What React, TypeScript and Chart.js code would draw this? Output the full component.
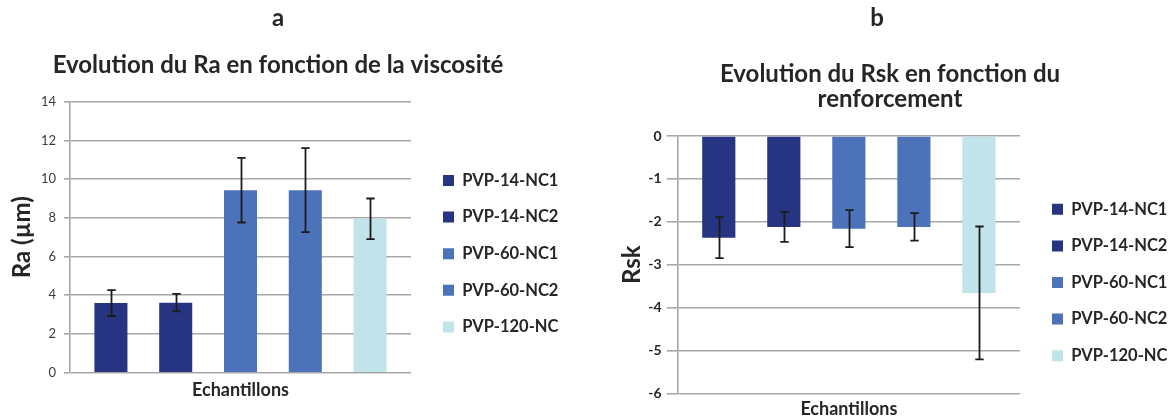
import React, { useEffect, useRef } from 'react';
import { Chart, registerables } from 'chart.js';

Chart.register(...registerables);

// ---------------- data ----------------
const categories = ['Echantillons'];
const seriesNames = ['PVP-14-NC1', 'PVP-14-NC2', 'PVP-60-NC1', 'PVP-60-NC2', 'PVP-120-NC'];
const seriesColors = ['#263482', '#263482', '#4c73b9', '#4c73b9', '#c1e3ea'];

const panelLetters = ['a', 'b'];

const raTitle = 'Evolution du Ra en fonction de la viscosité';
const raAxisTitle = 'Ra (µm)';
const raValues = [3.6, 3.62, 9.43, 9.43, 7.95];
const raErrors = [0.67, 0.45, 1.67, 2.17, 1.05];
const raTicks = [0, 14, 2]; // min, max, step

const rskTitle = ['Evolution du Rsk en fonction du', 'renforcement'];
const rskAxisTitle = 'Rsk';
const rskValues = [-2.37, -2.12, -2.16, -2.12, -3.66];
const rskErrors = [0.48, 0.35, 0.43, 0.32, 1.55];
const rskTicks = [-6, 0, 1];

// ---------------- layout / style ----------------
const FONT = 'Lato, "Open Sans", sans-serif';
const TEXT = '#262626';
const GRID = '#a8a8a8';
const W_PAGE = 1171;
const H = 418;
const X_LABEL_SIZE = 18;
const LEGEND_SIZE = 16.5;
const LEGEND_ROW = 36.6;
const LETTER_SIZE = 24;
const TITLE_SIZE = 24;

interface Panel {
  letter: string;
  title: string | string[];
  axisTitle: string;
  values: number[];
  errors: number[];
  ticks: number[];
  canvasLeft: number;
  canvasWidth: number;
  plotLeft: number;
  plotRight: number;
  plotTop: number;
  plotBottom: number;
  legendBoxX: number;
  legendRowCenter: number;
  axisTitleCenterX: number;
  letterCenterX: number;
  titleCenterX: number;
  letterPadTop: number;
  subPad: { top: number; bottom: number };
  titleLine: number;
  xLabelCenter: number;
  tickLength: number;
  tickPad: number;
  tickBold: boolean;
  tickSize: number;
}

const panels: Panel[] = [
  {
    letter: panelLetters[0],
    title: raTitle,
    axisTitle: raAxisTitle,
    values: raValues,
    errors: raErrors,
    ticks: raTicks,
    canvasLeft: 0,
    canvasWidth: 590,
    plotLeft: 70,
    plotRight: 411,
    plotTop: 101.7,
    plotBottom: 372.7,
    legendBoxX: 443,
    legendRowCenter: 180.5,
    axisTitleCenterX: 22.6,
    letterCenterX: 278,
    titleCenterX: 278,
    letterPadTop: 3.9,
    subPad: { top: 20.4, bottom: 23.6 },
    titleLine: 25,
    xLabelCenter: 390,
    tickLength: 6,
    tickPad: 8,
    tickBold: false,
    tickSize: 13,
  },
  {
    letter: panelLetters[1],
    title: rskTitle,
    axisTitle: rskAxisTitle,
    values: rskValues,
    errors: rskErrors,
    ticks: rskTicks,
    canvasLeft: 590,
    canvasWidth: 620,
    plotLeft: 677.7,
    plotRight: 1020,
    plotTop: 136,
    plotBottom: 393.3,
    legendBoxX: 1052,
    legendRowCenter: 209.3,
    axisTitleCenterX: 631.9,
    letterCenterX: 877,
    titleCenterX: 890,
    letterPadTop: 3.9,
    subPad: { top: 29.4, bottom: 23.9 },
    titleLine: 25,
    xLabelCenter: 409.5,
    tickLength: 11,
    tickPad: 5,
    tickBold: true,
    tickSize: 14,
  },
];

function errorBarPlugin(errors: number[]) {
  return {
    id: 'errorBars',
    afterDatasetsDraw(chart: any) {
      const yScale = chart.scales.y;
      const ctx = chart.ctx;
      ctx.save();
      ctx.strokeStyle = '#1c1c1c';
      ctx.lineWidth = 1.8;
      chart.data.datasets.forEach((ds: any, i: number) => {
        const meta = chart.getDatasetMeta(i);
        const el = meta.data[0];
        if (!el) return;
        const v = ds.data[0] as number;
        const e = errors[i];
        const x = Math.round(el.x) + 0.5;
        const y1 = yScale.getPixelForValue(v + e);
        const y2 = yScale.getPixelForValue(v - e);
        const cap = 4.2;
        ctx.beginPath();
        ctx.moveTo(x, y1);
        ctx.lineTo(x, y2);
        ctx.moveTo(x - cap, y1);
        ctx.lineTo(x + cap, y1);
        ctx.moveTo(x - cap, y2);
        ctx.lineTo(x + cap, y2);
        ctx.stroke();
      });
      ctx.restore();
    },
  };
}

// re-centre the title blocks (letter and chart title) at the reference positions
function titleCenterPlugin(p: Panel) {
  const same = (a: any, b: any) => JSON.stringify(a) === JSON.stringify(b);
  const place = (b: any, cx: number) => {
    b.left = cx - 400;
    b.right = cx + 400;
    b.width = 800;
  };
  const apply = (chart: any) => {
    if (chart.titleBlock) place(chart.titleBlock, p.letterCenterX - p.canvasLeft);
    for (const b of chart.boxes) {
      if (!b || b === chart.titleBlock || !b.options) continue;
      const t = b.options.text;
      if (t === undefined) continue;
      if (same(t, p.title)) place(b, p.titleCenterX - p.canvasLeft);
      else if (same(t, p.letter)) place(b, p.letterCenterX - p.canvasLeft);
    }
  };
  return {
    id: 'titleCenter',
    afterLayout: apply,
    beforeDraw: apply,
  };
}

function buildChart(canvas: HTMLCanvasElement, p: Panel) {
  const fs = LEGEND_SIZE;
  const pad = LEGEND_ROW - fs;
  const box = 11;
  const m = document.createElement('canvas').getContext('2d')!;
  m.font = `bold ${fs}px ${FONT}`;
  const tw = Math.max(...seriesNames.map((n) => m.measureText(n).width));
  const legendW = pad + box + fs / 2 + tw + 10;
  const W = p.canvasWidth;
  const plotLeft = p.plotLeft - p.canvasLeft;
  const plotRight = p.plotRight - p.canvasLeft;
  let legendLeft = p.legendBoxX - p.canvasLeft - pad;
  let padR = W - legendLeft - legendW;
  if (padR < 0) {
    legendLeft += padR;
    padR = 0;
  }
  const spacer = Math.max(0, legendLeft - plotRight);
  const rowTop = p.legendRowCenter - fs / 2;
  const colH = seriesNames.length * (fs + pad);
  const legendTitleH = 2 * rowTop - p.plotTop - pad - p.plotBottom + colH;
  const xLabelPad = p.xLabelCenter - p.plotBottom - (X_LABEL_SIZE * 1.2) / 2;
  const axisTitleSize = 24;
  const axisTitlePad = p.axisTitleCenterX - p.canvasLeft - (axisTitleSize * 1.2) / 2;

  return new Chart(canvas, {
    type: 'bar',
    data: {
      labels: categories,
      datasets: seriesNames.map((name, i) => ({
        label: name,
        data: [p.values[i]],
        backgroundColor: seriesColors[i],
        borderWidth: 0,
        categoryPercentage: 0.95,
        barPercentage: 0.51,
      })),
    },
    options: {
      animation: false,
      responsive: true,
      maintainAspectRatio: false,
      layout: { padding: { left: 0, right: padR, top: 0, bottom: 0 } },
      plugins: {
        title: {
          display: true,
          text: p.letter,
          fullSize: false,
          color: TEXT,
          font: { family: FONT, size: LETTER_SIZE, weight: 'bold', lineHeight: 1.2 },
          padding: { top: p.letterPadTop, bottom: 0 },
        },
        subtitle: {
          display: true,
          text: p.title,
          fullSize: false,
          color: TEXT,
          font: { family: FONT, size: TITLE_SIZE, weight: 'bold', lineHeight: `${p.titleLine}px` },
          padding: p.subPad,
        },
        legend: {
          position: 'right',
          fullSize: false,
          align: 'center',
          maxWidth: 1000,
          labels: {
            boxWidth: box,
            boxHeight: box,
            padding: pad,
            color: TEXT,
            font: { family: FONT, size: fs, weight: 'bold' },
          },
          title: {
            display: true,
            text: '',
            font: { family: FONT, size: 10, lineHeight: 1 },
            padding: { top: 0, bottom: Math.max(0, legendTitleH - 10) },
          },
        },
        tooltip: { enabled: false },
      },
      scales: {
        x: {
          type: 'category',
          grid: { display: false, drawTicks: false },
          border: { display: false },
          ticks: {
            padding: xLabelPad,
            color: TEXT,
            maxRotation: 0,
            autoSkip: false,
            font: { family: FONT, size: X_LABEL_SIZE, weight: 'bold', lineHeight: 1.2 },
          },
          afterFit: (s: any) => {
            s.height = H - p.plotBottom;
          },
        },
        y: {
          type: 'linear',
          position: 'left',
          min: p.ticks[0],
          max: p.ticks[1],
          ticks: {
            stepSize: p.ticks[2],
            padding: p.tickPad,
            color: p.tickBold ? TEXT : '#3c3c3c',
            font: { family: FONT, size: p.tickSize, weight: p.tickBold ? 'bold' : 'normal' },
          },
          grid: { color: GRID, lineWidth: 1.6, tickLength: p.tickLength },
          border: { color: GRID, width: 1.6 },
          title: {
            display: true,
            text: p.axisTitle,
            color: TEXT,
            font: { family: FONT, size: axisTitleSize, weight: 'bold', lineHeight: 1.2 },
            padding: { top: axisTitlePad, bottom: 0 },
          },
          afterFit: (s: any) => {
            s.width = plotLeft;
          },
        },
        spacer: {
          type: 'linear',
          position: 'right',
          display: true,
          grid: { display: false },
          border: { display: false },
          ticks: { display: false },
          afterFit: (s: any) => {
            s.width = spacer;
          },
        },
      },
    } as any,
    plugins: [errorBarPlugin(p.errors), titleCenterPlugin(p)],
  });
}

export default function App() {
  const refA = useRef<HTMLCanvasElement>(null);
  const refB = useRef<HTMLCanvasElement>(null);

  useEffect(() => {
    const a = buildChart(refA.current!, panels[0]);
    const b = buildChart(refB.current!, panels[1]);
    return () => {
      a.destroy();
      b.destroy();
    };
  }, []);

  return (
    <div
      style={{
        position: 'absolute',
        left: 0,
        top: 0,
        width: W_PAGE,
        height: H,
        background: '#fff',
        overflow: 'hidden',
      }}
    >
      <div style={{ position: 'absolute', left: panels[0].canvasLeft, top: 0, width: panels[0].canvasWidth, height: H }}>
        <canvas ref={refA} />
      </div>
      <div style={{ position: 'absolute', left: panels[1].canvasLeft, top: 0, width: panels[1].canvasWidth, height: H }}>
        <canvas ref={refB} />
      </div>
    </div>
  );
}
